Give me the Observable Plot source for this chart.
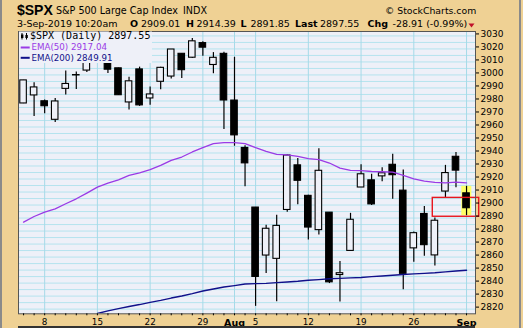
<!DOCTYPE html>
<html><head><meta charset="utf-8">
<script src="https://cdn.jsdelivr.net/npm/d3@7"></script>
<script src="https://cdn.jsdelivr.net/npm/@observablehq/plot@0.6"></script>
<style>
body{margin:0;background:#fff;}
#wrap{position:relative;width:523px;height:328px;background:#efd194;overflow:hidden;}
#chart{position:absolute;left:0;top:0;}
.edge{position:absolute;top:0;width:2px;height:328px;background:#8a8a8a;}
</style></head><body>
<div id="wrap">
  <div id="chart"></div>
  <div class="edge" style="left:0"></div>
  <div class="edge" style="left:519px"></div>
  <div style="position:absolute;left:18px;top:326px;width:457px;height:2px;background:#333"></div>
</div>
<script>
const dates = ["2019-07-03","2019-07-05","2019-07-08","2019-07-09","2019-07-10","2019-07-11","2019-07-12",
"2019-07-15","2019-07-16","2019-07-17","2019-07-18","2019-07-19","2019-07-22","2019-07-23","2019-07-24",
"2019-07-25","2019-07-26","2019-07-29","2019-07-30","2019-07-31","2019-08-01","2019-08-02","2019-08-05",
"2019-08-06","2019-08-07","2019-08-08","2019-08-09","2019-08-12","2019-08-13","2019-08-14","2019-08-15",
"2019-08-16","2019-08-19","2019-08-20","2019-08-21","2019-08-22","2019-08-23","2019-08-26","2019-08-27",
"2019-08-28","2019-08-29","2019-08-30","2019-09-03"];
const openP = [2978.08,2984.25,2979.77,2965.52,2989.30,2999.62,3003.36,3017.80,3012.13,3005.10,2978.87,3004.26,
2981.93,2994.74,2998.77,3016.26,3013.25,3024.47,3007.66,3016.22,2980.32,2943.90,2898.07,2861.18,2858.65,2896.21,
2930.51,2907.07,2880.72,2894.15,2846.20,2864.74,2913.48,2919.01,2922.04,2930.94,2911.07,2866.70,2893.14,2861.28,
2910.37,2937.09,2909.01];
const highP = [2995.84,2994.03,2980.76,2981.90,3002.98,3002.33,3013.92,3017.80,3015.02,3005.26,2998.28,3006.02,
2990.71,3005.90,3019.59,3016.31,3027.98,3025.61,3017.19,3017.40,3013.59,2945.50,2898.07,2884.40,2892.17,2938.72,
2935.75,2907.58,2943.31,2894.15,2856.67,2893.63,2931.00,2923.63,2928.73,2939.08,2927.01,2879.27,2898.79,2890.03,
2930.50,2940.43,2914.39];
const lowP = [2977.96,2967.97,2970.09,2963.44,2984.62,2988.80,3001.87,3008.77,3001.15,2984.25,2973.09,2975.86,
2976.65,2988.56,2996.82,2997.24,3012.59,3014.30,3000.94,2958.08,2945.23,2914.11,2822.12,2847.42,2825.71,2894.47,
2900.15,2873.14,2877.05,2839.64,2825.51,2864.74,2913.48,2899.60,2917.91,2904.51,2834.97,2856.00,2860.59,2853.05,
2905.67,2913.32,2891.85];
const closeP = [2995.82,2990.41,2975.95,2979.63,2993.07,2999.91,3013.77,3014.30,3004.04,2984.42,2995.11,2976.61,
2985.03,3005.47,3019.56,3003.67,3025.86,3020.97,3013.18,2980.38,2953.56,2932.05,2844.74,2881.77,2883.98,2938.09,
2918.65,2882.70,2926.32,2840.60,2847.60,2888.68,2923.65,2900.51,2924.43,2922.95,2847.11,2878.38,2869.16,2887.94,
2924.58,2926.46,2897.55];
const ema50 = [2886.9,2891.2,2894.6,2897.1,2901.0,2904.8,2909.2,2913.8,2916.8,2919.4,2922.8,2924.8,2927.2,2930.5,
2934.3,2936.9,2940.8,2944.1,2947.2,2948.0,2948.0,2947.2,2944.1,2941.3,2939.0,2938.5,2937.4,2935.7,2934.9,2932.3,
2928.4,2926.7,2926.4,2925.8,2925.6,2925.3,2922.8,2920.2,2918.4,2917.4,2917.1,2917.6,2917.04];
const ema200 = [null,null,null,null,null,null,null,2816.6,2818.6,2820.4,2822.0,2823.5,2825.2,2826.7,2828.5,2830.1,
2831.9,2833.9,2835.5,2837.0,2838.1,2839.3,2839.6,2839.8,2840.4,2840.9,2841.4,2842.2,2842.7,2843.3,2843.6,2844.0,
2844.3,2845.0,2845.5,2846.0,2846.6,2847.1,2847.5,2847.9,2848.6,2849.3,2849.91];
const dayTickLabels = ["8","15","22","29","5","12","19","26"];
const dayTickIdx = [2,7,12,17,22,27,32,37];
const monthLabels = ["Aug","Sep"];
const monthIdx = [20,42];
const gridIdx = [2,7,12,17,20,22,27,32,37,42];
const yLabels = d3.range(2820, 3031, 10);
const yGridVals = d3.range(2820, 3031, 5);
const boxIdx = [38.8, 43.2];
const boxPrice = [2891, 2905.5];

const bars = dates.map((d, i) => ({i, date: d, o: openP[i], h: highP[i], l: lowP[i], c: closeP[i], e50: ema50[i], e200: ema200[i]}));
const last = [bars[bars.length - 1]];
const BG = "#eef0f8";
const GRID = "#b5e3ee";

const svg = Plot.plot({
  width: 523, height: 328,
  marginTop: 31, marginBottom: 14.7, marginLeft: 18, marginRight: 48,
  style: {background: "transparent", overflow: "visible"},
  x: {type: "linear", domain: [-0.48, 42.85]},
  y: {domain: [2816.4, 3033.4]},
  marks: [
    Plot.frame({fill: BG, stroke: null}),
    Plot.gridY(yGridVals, {stroke: GRID, strokeOpacity: 1}),
    Plot.gridX(gridIdx, {stroke: "#a6dae8", strokeOpacity: 1}),
    Plot.rect(last, {x1: d => d.i - 0.45, x2: d => d.i + 0.5, y1: "l", y2: "h", fill: "#ffff66"}),
    Plot.ruleX(bars, {x: "i", y1: "l", y2: "h", stroke: "#000", strokeWidth: 1.2}),
    Plot.rect(bars, {x1: d => d.i - 0.31, x2: d => d.i + 0.31, y1: "o", y2: "c",
      fill: d => d.c < d.o ? "#000" : BG, stroke: "#000", strokeWidth: 1.1}),
    Plot.line(bars, {x: "i", y: "e50", stroke: "#9a3ae6", strokeWidth: 1.3}),
    Plot.line(bars.filter(d => d.e200 != null), {x: "i", y: "e200", stroke: "#10108a", strokeWidth: 1.4, clip: true}),
    Plot.rect([0], {x1: () => boxIdx[0], x2: () => boxIdx[1], y1: () => boxPrice[0], y2: () => boxPrice[1],
      fill: "none", stroke: "#e8161e", strokeWidth: 1.4}),
    Plot.frame({stroke: "#555"}),
    Plot.axisY(yLabels, {anchor: "right", tickSize: 3, tickPadding: 2, fontSize: 9, fontFamily: "DejaVu Sans",
      dy: -2, tickFormat: d => String(d), label: null}),
    Plot.axisX(d3.range(0, 43), {anchor: "bottom", tickSize: 2, tickFormat: () => "", label: null}),
    Plot.axisX(dayTickIdx, {anchor: "bottom", tickSize: 0, tickPadding: 5, fontSize: 8.8, fontFamily: "DejaVu Sans",
      tickFormat: d => dayTickLabels[dayTickIdx.indexOf(d)], label: null}),
    Plot.axisX(monthIdx, {anchor: "bottom", tickSize: 0, tickPadding: 5, fontSize: 9.5, fontFamily: "DejaVu Sans",
      fontWeight: "bold", tickFormat: d => monthLabels[monthIdx.indexOf(d)], label: null})
  ]
});

const s = d3.select(svg);
function txt(x, y, str, o = {}) {
  return s.append("text").attr("x", x).attr("y", y).text(str)
    .attr("text-anchor", "start")
    .attr("font-family", o.ff || "DejaVu Sans").attr("font-size", o.fs || 9.5)
    .attr("font-weight", o.fw || "normal").attr("fill", o.fill || "#000");
}
// header
txt(17, 15, "$SPX", {ff: "Liberation Sans", fs: 14, fw: "bold"});
txt(56, 14, "S&P 500 Large Cap Index", {fs: 9.6});
txt(183, 14, "INDX", {fs: 9.6});
txt(385, 14, "© StockCharts.com", {fs: 9.3});
txt(17, 27, "3-Sep-2019 10:20am", {fs: 9.5});
txt(130, 27, "O", {fs: 9.5, fw: "bold"}); txt(141, 27, "2909.01", {fs: 9.5});
txt(186, 27, "H", {fs: 9.5, fw: "bold"}); txt(196.5, 27, "2914.39", {fs: 9.5});
txt(240.5, 27, "L", {fs: 9.5, fw: "bold"}); txt(250.5, 27, "2891.85", {fs: 9.5});
txt(295, 27, "Last", {fs: 9.5, fw: "bold"}); txt(320, 27, "2897.55", {fs: 9.5});
txt(367.5, 27, "Chg", {fs: 9.5, fw: "bold"}); txt(392.5, 27, "-28.91 (-0.99%)", {fs: 9.5});
s.append("polygon").attr("points", "468.5,23.5 474.5,23.5 471.5,27.5").attr("fill", "#c0102a");
// legend
s.append("rect").attr("x", 19).attr("y", 31.5).attr("width", 133).attr("height", 31.5).attr("fill", BG);
const ic = s.append("g");
ic.append("line").attr("x1", 22).attr("x2", 22).attr("y1", 33).attr("y2", 39.5).attr("stroke", "#000");
ic.append("rect").attr("x", 21).attr("y", 34.5).attr("width", 2.4).attr("height", 3.5).attr("fill", "#000");
ic.append("line").attr("x1", 26.5).attr("x2", 26.5).attr("y1", 33).attr("y2", 39.5).attr("stroke", "#000");
ic.append("rect").attr("x", 25.4).attr("y", 35).attr("width", 2.4).attr("height", 3).attr("fill", "#000");
txt(30, 39.3, "$SPX (Daily) 2897.55", {ff: "DejaVu Sans Mono", fs: 10});
s.append("rect").attr("x", 20.7).attr("y", 46.5).attr("width", 9).attr("height", 2).attr("fill", "#9a3ae6");
txt(31.5, 50.3, "EMA(50) 2917.04", {fs: 8.7, fill: "#9a3ae6"});
s.append("rect").attr("x", 20.7).attr("y", 56.8).attr("width", 9).attr("height", 2).attr("fill", "#10108a");
txt(31.5, 60.6, "EMA(200) 2849.91", {fs: 8.7, fill: "#10108a"});

document.getElementById("chart").appendChild(svg);
</script>
</body></html>
